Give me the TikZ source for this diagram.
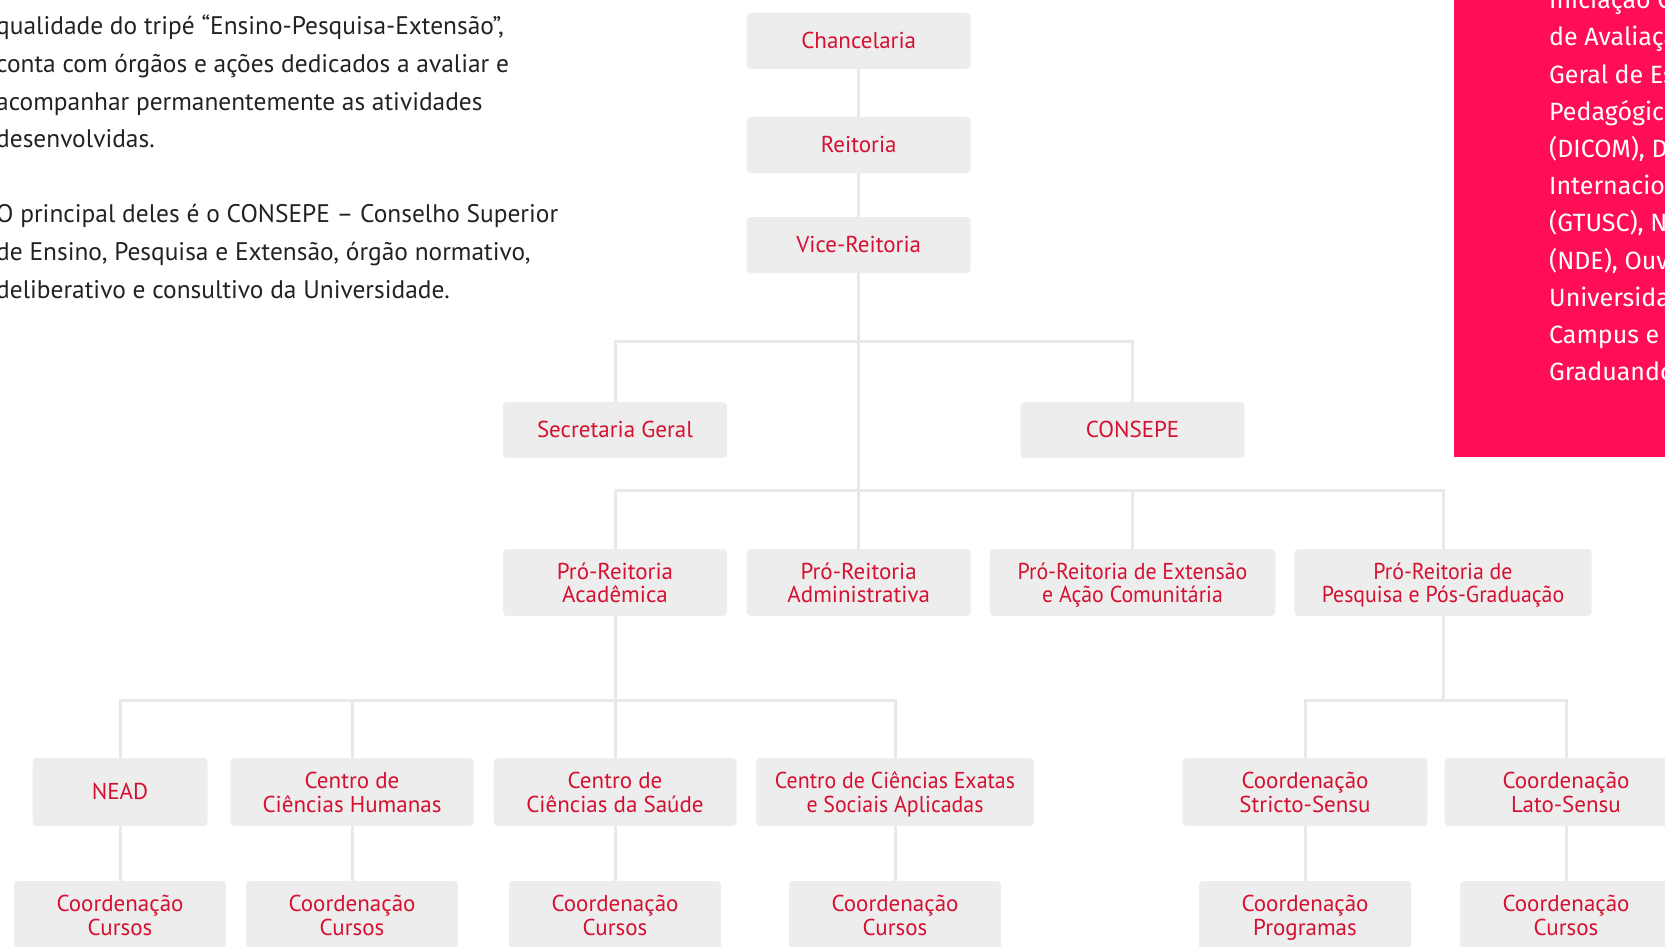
\documentclass[tikz,border=0pt]{standalone}
\usepackage{fontspec}
\setmainfont{PT Sans}
\newfontfamily\sidefont{Fira Sans}
\usetikzlibrary{positioning}

\definecolor{orgred}{RGB}{214,16,48}
\definecolor{boxgray}{RGB}{237,237,237}
\definecolor{linkgray}{RGB}{233,233,233}
\definecolor{sidepink}{RGB}{255,14,85}
\definecolor{bodytext}{RGB}{34,34,34}

\begin{document}
\begin{tikzpicture}[x=1pt, y=-1pt,
  unit/.style={rectangle, fill=boxgray, rounded corners=4pt, inner sep=0pt,
    text=orgred, align=center, minimum height=56pt,
    font=\fontsize{23}{23.4}\selectfont,
    execute at begin node={\rule{0pt}{20.5pt}},
    execute at end node={\rule[-6pt]{0pt}{6pt}}},
  duo/.style={execute at begin node={\rule{0pt}{46.5pt}}},
  tall/.style={minimum height=67pt},
  narrow/.style={font=\fontsize{23}{23.4}\selectfont\addfontfeature{FakeStretch=0.95}},
  link/.style={draw=linkgray, line width=3pt}
]
  \useasboundingbox (0,0) rectangle (1665,947);
  \clip (0,0) rectangle (1665,947);

  % intro text
  \node[anchor=north west, inner sep=0pt, align=left, text=bodytext,
    font=\fontsize{25.4}{37.6}\selectfont] (intro) at (-4,15)
    {qualidade do tripé “Ensino-Pesquisa-Extensão”,\\
     conta com órgãos e ações dedicados a avaliar e\\
     acompanhar permanentemente as atividades\\
     desenvolvidas.\\[37.6pt]
     O principal deles é o CONSEPE – Conselho Superior\\
     de Ensino, Pesquisa e Extensão, órgão normativo,\\
     deliberativo e consultivo da Universidade.};

  % side panel
  \fill[sidepink] (1453.5,-5) rectangle (1670,456.6);
  \node[anchor=north west, inner sep=0pt, align=left, text=white,
    font=\sidefont\fontsize{25}{37.2}\selectfont] (side) at (1549,-11)
    {Iniciação C\\ de Avaliaçã\\ Geral de Es\\ Pedagógic\\ (DICOM), D\\
     Internacion\\ (GTUSC), N\\ (NDE), Ouv\\ Universida\\ Campus e\\ Graduando};

  % top chain
  \node[unit, minimum width=224pt] (chanc) at (858.7,41) {Chancelaria};
  \node[unit, minimum width=224pt] (reit) at (858.7,145) {Reitoria};
  \node[unit, minimum width=224pt] (vice) at (858.7,245) {Vice-Reitoria};

  \node[unit, minimum width=224pt] (secg) at (615,430) {Secretaria Geral};
  \node[unit, minimum width=224pt] (consepe) at (1132.5,430) {CONSEPE};

  % pro-reitorias
  \node[unit, duo, tall, minimum width=224pt] (pracad) at (615,582.5) {Pró-Reitoria\\Acadêmica};
  \node[unit, duo, tall, minimum width=224pt] (pradm) at (858.7,582.5) {Pró-Reitoria\\Administrativa};
  \node[unit, duo, tall, narrow, minimum width=285.6pt] (prext) at (1132.5,582.5) {Pró-Reitoria de Extensão\\e Ação Comunitária};
  \node[unit, duo, tall, narrow, minimum width=297.3pt] (prpes) at (1443,582.5) {Pró-Reitoria de\\Pesquisa e Pós-Graduação};

  % centros
  \node[unit, minimum height=68pt, minimum width=175pt] (nead) at (120,792) {NEAD};
  \node[unit, duo, minimum height=68pt, minimum width=243pt] (cch) at (352,792) {Centro de\\Ciências Humanas};
  \node[unit, duo, minimum height=68pt, minimum width=243pt] (ccs) at (615,792) {Centro de\\Ciências da Saúde};
  \node[unit, duo, narrow, minimum height=68pt, minimum width=278pt] (ccesa) at (895,792) {Centro de Ciências Exatas\\e Sociais Aplicadas};
  \node[unit, duo, minimum height=68pt, minimum width=244.6pt] (stricto) at (1305,792) {Coordenação\\Stricto-Sensu};
  \node[unit, duo, minimum height=68pt, minimum width=242.6pt] (lato) at (1566,792) {Coordenação\\Lato-Sensu};

  % coordenacoes
  \node[unit, duo, minimum height=68pt, minimum width=212pt] (cnead) at (120,915) {Coordenação\\Cursos};
  \node[unit, duo, minimum height=68pt, minimum width=212pt] (ccch) at (352,915) {Coordenação\\Cursos};
  \node[unit, duo, minimum height=68pt, minimum width=212pt] (cccs) at (615,915) {Coordenação\\Cursos};
  \node[unit, duo, minimum height=68pt, minimum width=212pt] (cccesa) at (895,915) {Coordenação\\Cursos};
  \node[unit, duo, minimum height=68pt, minimum width=212pt] (cprog) at (1305,915) {Coordenação\\Programas};
  \node[unit, duo, minimum height=68pt, minimum width=212pt] (clato) at (1566,915) {Coordenação\\Cursos};

  % bars
  \coordinate (bar1) at (858.7,341);
  \coordinate (bar2) at (858.7,490.6);
  \coordinate (bar3) at (615,700.9);
  \coordinate (bar4) at (1443,700.9);

  % connectors
  \draw[link] (chanc) -- (reit);
  \draw[link] (reit) -- (vice);
  \draw[link] (vice) -- (pradm);
  \draw[link] (secg.north) -- (secg.north |- bar1) -- (consepe.north |- bar1) -- (consepe.north);
  \draw[link] (pracad.north) -- (pracad.north |- bar2) -- (prpes.north |- bar2) -- (prpes.north);
  \draw[link] (prext.north) -- (prext.north |- bar2);
  \draw[link] (pracad) -- (bar3);
  \draw[link] (nead.north) -- (nead.north |- bar3) -- (ccesa.north |- bar3) -- (ccesa.north);
  \draw[link] (cch.north) -- (cch.north |- bar3);
  \draw[link] (ccs.north) -- (bar3);
  \draw[link] (prpes) -- (bar4);
  \draw[link] (stricto.north) -- (stricto.north |- bar4) -- (lato.north |- bar4) -- (lato.north);
  \draw[link] (nead) -- (cnead);
  \draw[link] (cch) -- (ccch);
  \draw[link] (ccs) -- (cccs);
  \draw[link] (ccesa) -- (cccesa);
  \draw[link] (stricto) -- (cprog);
  \draw[link] (lato) -- (clato);
\end{tikzpicture}
\end{document}
